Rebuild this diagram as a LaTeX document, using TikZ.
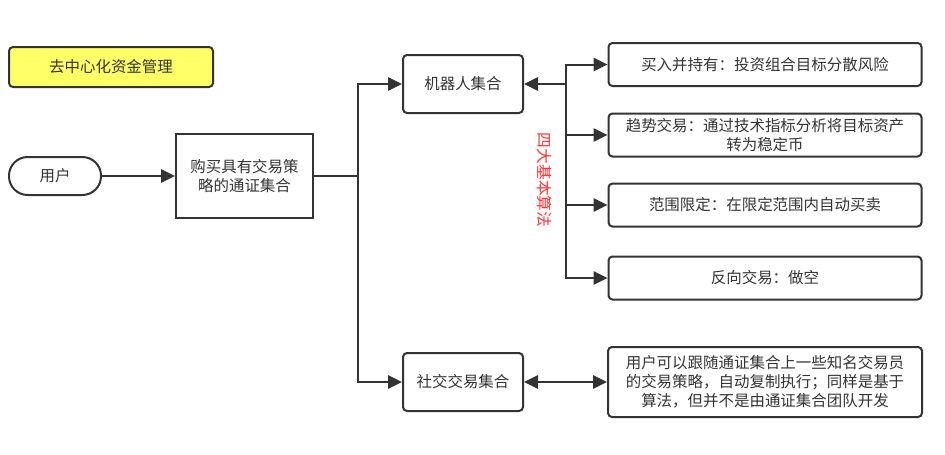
\documentclass[tikz,border=0pt]{standalone}
\usepackage{fontspec}
\setmainfont{Noto Sans CJK SC}
\usetikzlibrary{arrows.meta}
\definecolor{ink}{HTML}{333333}
\definecolor{titlefill}{HTML}{FFFF66}
\definecolor{redlab}{HTML}{FF3333}
\tikzset{
  box/.style={draw=ink, line width=1.5pt, text=ink, align=center, inner sep=2pt,
    font=\fontsize{11.6pt}{14.2pt}\selectfont},
  rbox/.style={box, rounded corners=3pt},
  conn/.style={draw=ink, line width=1.5pt},
  arr/.style={conn, -{Triangle[length=10.5pt,width=10pt]}},
  darr/.style={conn, {Triangle[length=10.5pt,width=10pt]}-{Triangle[length=10.5pt,width=10pt]}}
}
\begin{document}
\begin{tikzpicture}[x=0.75pt,y=-0.75pt]
\useasboundingbox (0,0) rectangle (945,454);
\node[rbox, fill=titlefill, minimum width=153pt, minimum height=30pt] (title) at (111,67) {去中心化资金管理};
\node[box, rounded corners=14pt, minimum width=69pt, minimum height=28.5pt] (user) at (55,176) {用户};
\node[box, minimum width=102.75pt, minimum height=63pt] (buy) at (244.5,176) {购买具有交易策\\略的通证集合};
\node[rbox, minimum width=90pt, minimum height=43.5pt] (robot) at (463,84) {机器人集合};
\node[rbox, minimum width=90pt, minimum height=43.5pt] (social) at (463,382) {社交交易集合};
\node[rbox, minimum width=234.75pt, minimum height=32.25pt] (s1) at (765,64.5) {买入并持有：投资组合目标分散风险};
\node[rbox, minimum width=234.75pt, minimum height=32.25pt] (s2) at (765,135) {趋势交易：通过技术指标分析将目标资产\\转为稳定币};
\node[rbox, minimum width=234.75pt, minimum height=32.25pt] (s3) at (765,205) {范围限定：在限定范围内自动买卖};
\node[rbox, minimum width=234.75pt, minimum height=32.25pt] (s4) at (765,278) {反向交易：做空};
\node[rbox, minimum width=235.5pt, minimum height=52.5pt] (desc) at (765,382) {用户可以跟随通证集合上一些知名交易员\\的交易策略，自动复制执行；同样是基于\\算法，但并不是由通证集合团队开发};
\node[text=redlab, rotate=-90, font=\fontsize{11.8pt}{14pt}\selectfont] (algo) at (545,180) {四大基本算法};
\coordinate (j1) at (358,176);
\coordinate (j2) at (566,84);
\draw[arr] (user) -- (buy);
\draw[conn] (buy.east) -- (j1);
\draw[arr] (j1) |- (robot.west);
\draw[arr] (j1) |- (social.west);
\draw[arr] (j2) -- (robot.east);
\draw[arr] (j2) |- (s1.west);
\draw[arr] (j2) |- (s2.west);
\draw[arr] (j2) |- (s3.west);
\draw[arr] (j2) |- (s4.west);
\draw[darr] (social) -- (desc);
\end{tikzpicture}
\end{document}
